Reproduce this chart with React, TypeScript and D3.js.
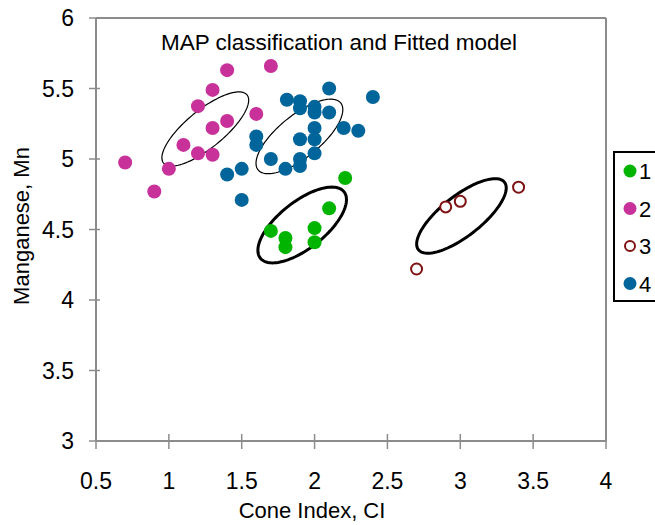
import { useEffect, useRef } from 'react';
import * as d3 from 'd3';

// MAP class membership, Cone Index (x) vs Manganese (y)
const class1X = [2.21, 2.1, 1.7, 1.8, 1.8, 2.0, 2.0];
const class1Y = [4.865, 4.65, 4.49, 4.44, 4.375, 4.51, 4.41];

const class2X = [0.7, 0.9, 1.0, 1.1, 1.2, 1.3, 1.3, 1.4, 1.2, 1.3, 1.4, 1.6, 1.7];
const class2Y = [4.975, 4.77, 4.93, 5.1, 5.04, 5.03, 5.22, 5.27, 5.375, 5.49, 5.63, 5.32, 5.66];

const class3X = [3.4, 3.0, 2.9, 2.7];
const class3Y = [4.8, 4.7, 4.66, 4.22];

const class4X = [1.4, 1.5, 1.5, 1.6, 1.6, 1.7, 1.81, 1.8, 1.9, 1.9, 1.9, 1.9, 1.9, 2.0, 2.0, 2.0, 2.0, 2.0, 2.1, 2.1, 2.2, 2.3, 2.4];
const class4Y = [4.89, 4.93, 4.71, 5.16, 5.1, 5.0, 5.42, 4.93, 5.41, 5.36, 5.14, 5.0, 4.95, 5.37, 5.33, 5.22, 5.14, 5.04, 5.5, 5.33, 5.22, 5.2, 5.44];

// fitted gaussian components: centre and covariance
const compNames = ['1', '2', '3', '4'];
const compCx = [1.915, 1.25, 3.008, 1.896];
const compCy = [4.532, 5.213, 4.596, 5.16];
const compSxx = [0.0924, 0.0887, 0.0945, 0.0887];
const compSyy = [0.0722, 0.0692, 0.0699, 0.0699];
const compSxy = [0.0547, 0.0608, 0.0611, 0.0567];
const compStroke = [3, 1.2, 3, 1.2];

const xTicks = [0.5, 1, 1.5, 2, 2.5, 3, 3.5, 4];
const yTicks = [3, 3.5, 4, 4.5, 5, 5.5, 6];

const colors = ['#00b400', '#c8309a', '#7f1212', '#00659b'];

export default function App() {
  const svgRef = useRef<SVGSVGElement>(null);

  useEffect(() => {
    if (!svgRef.current) return;
    const width = 655;
    const height = 525;
    const font = 'Liberation Sans, Arial, sans-serif';
    const axisColor = '#8c8c8c';

    d3.select(svgRef.current).selectAll('*').remove();
    const svg = d3.select(svgRef.current).attr('width', width).attr('height', height);

    const x = d3.scaleLinear().domain([0.5, 4]).range([96, 606]);
    const y = d3.scaleLinear().domain([3, 6]).range([441, 18]);
    const [x0, x1] = x.range();
    const [y0, y1] = y.range();

    // frame top/right
    svg.append('line').attr('x1', x0).attr('x2', x1).attr('y1', y1).attr('y2', y1)
      .attr('stroke', axisColor).attr('stroke-width', 2);
    svg.append('line').attr('x1', x1).attr('x2', x1).attr('y1', y1).attr('y2', y0)
      .attr('stroke', axisColor).attr('stroke-width', 2);

    // axes
    svg.append('line').attr('x1', x0).attr('x2', x1).attr('y1', y0).attr('y2', y0)
      .attr('stroke', axisColor).attr('stroke-width', 2);
    svg.append('line').attr('x1', x0).attr('x2', x0).attr('y1', y1).attr('y2', y0)
      .attr('stroke', axisColor).attr('stroke-width', 2);

    svg.selectAll('.xt').data(xTicks).enter().append('line')
      .attr('x1', (d) => x(d)).attr('x2', (d) => x(d))
      .attr('y1', y0 - 7).attr('y2', y0 + 8)
      .attr('stroke', axisColor).attr('stroke-width', 1.5);
    svg.selectAll('.yt').data(yTicks).enter().append('line')
      .attr('x1', x0 - 7).attr('x2', x0 + 4)
      .attr('y1', (d) => y(d)).attr('y2', (d) => y(d))
      .attr('stroke', axisColor).attr('stroke-width', 1.5);

    svg.selectAll('.xl').data(xTicks).enter().append('text')
      .attr('x', (d) => x(d)).attr('y', 489)
      .attr('text-anchor', 'middle').attr('font-family', font).attr('font-size', 23)
      .text((d) => String(d));
    svg.selectAll('.yl').data(yTicks).enter().append('text')
      .attr('x', 74).attr('y', (d) => y(d) + 8)
      .attr('text-anchor', 'end').attr('font-family', font).attr('font-size', 23)
      .text((d) => String(d));

    svg.append('text').attr('x', 312).attr('y', 518).attr('text-anchor', 'middle')
      .attr('font-family', font).attr('font-size', 22).text('Cone Index, CI');
    svg.append('text').attr('transform', 'translate(29,226) rotate(-90)')
      .attr('text-anchor', 'middle').attr('font-family', font).attr('font-size', 22)
      .text('Manganese, Mn');

    svg.append('text').attr('x', 339).attr('y', 50).attr('text-anchor', 'middle')
      .attr('font-family', font).attr('font-size', 22.5).text('MAP classification and Fitted model');

    // ellipses from covariance (Cholesky), drawn through scales
    const ts = d3.range(0, 361, 3).map((a) => (a * Math.PI) / 180);
    const line = d3.line<[number, number]>().x((p) => x(p[0])).y((p) => y(p[1])).curve(d3.curveLinearClosed);
    compNames.forEach((_, i) => {
      const l11 = Math.sqrt(compSxx[i]);
      const l21 = compSxy[i] / l11;
      const l22 = Math.sqrt(compSyy[i] - l21 * l21);
      const pts: [number, number][] = ts.map((t) => [
        compCx[i] + l11 * Math.cos(t),
        compCy[i] + l21 * Math.cos(t) + l22 * Math.sin(t),
      ]);
      svg.append('path').attr('d', line(pts) as string)
        .attr('fill', 'none').attr('stroke', '#000').attr('stroke-width', compStroke[i]);
    });

    const groups = [
      { xs: class1X, ys: class1Y, c: colors[0], open: false },
      { xs: class2X, ys: class2Y, c: colors[1], open: false },
      { xs: class4X, ys: class4Y, c: colors[3], open: false },
      { xs: class3X, ys: class3Y, c: colors[2], open: true },
    ];
    groups.forEach((g) => {
      svg.append('g').selectAll('circle').data(g.xs.map((v, k) => [v, g.ys[k]])).enter()
        .append('circle')
        .attr('cx', (d) => x(d[0])).attr('cy', (d) => y(d[1]))
        .attr('r', g.open ? 5.5 : 7)
        .attr('fill', g.open ? '#fff' : g.c)
        .attr('stroke', g.open ? g.c : 'none')
        .attr('stroke-width', g.open ? 2 : 0);
    });

    // legend
    const lg = svg.append('g').attr('transform', 'translate(614,152)');
    lg.append('rect').attr('width', 60).attr('height', 149)
      .attr('fill', '#fff').attr('stroke', '#000').attr('stroke-width', 2);
    compNames.forEach((name, i) => {
      const cy = 19 + i * 37.5;
      const open = i === 2;
      lg.append('circle').attr('cx', 16).attr('cy', cy).attr('r', open ? 5 : 6.5)
        .attr('fill', open ? '#fff' : colors[i])
        .attr('stroke', open ? colors[i] : 'none').attr('stroke-width', 2);
      lg.append('text').attr('x', 25).attr('y', cy + 8).attr('font-family', font)
        .attr('font-size', 22).text(name);
    });
  }, []);

  return (
    <div style={{ position: 'absolute', left: 0, top: 0 }}>
      <svg ref={svgRef} style={{ display: 'block' }}></svg>
    </div>
  );
}
